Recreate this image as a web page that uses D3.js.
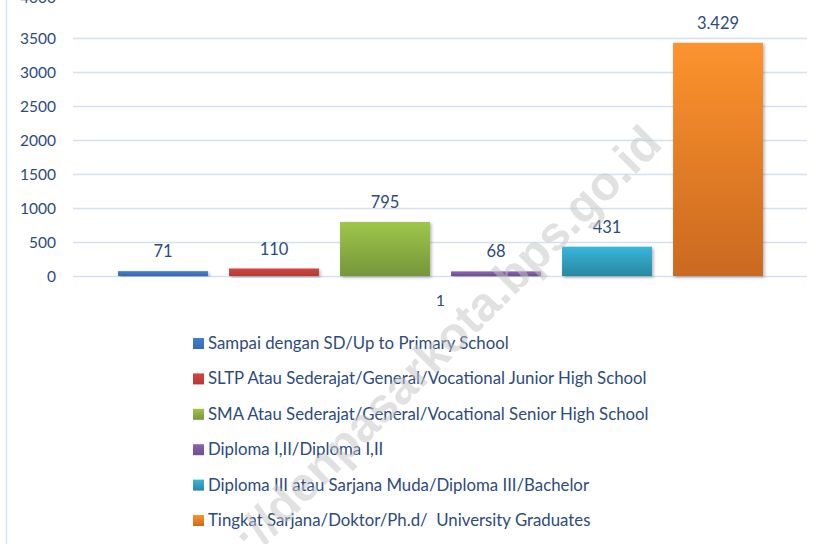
<!DOCTYPE html>
<html>
<head>
<meta charset="utf-8">
<script src="https://cdn.jsdelivr.net/npm/d3@7"></script>
<style>
  body { margin: 0; background: #fff; }
  svg { display: block; font-family: Lato, "Open Sans", sans-serif; }
</style>
</head>
<body>
<div id="chart"></div>
<script>
// categories (legend labels) and values
var categories = [
	"Sampai dengan SD/Up to Primary School",
	"SLTP Atau Sederajat/General/Vocational Junior High School",
	"SMA Atau Sederajat/General/Vocational Senior High School",
	"Diploma I,II/Diploma I,II",
	"Diploma III atau Sarjana Muda/Diploma III/Bachelor",
	"Tingkat Sarjana/Doktor/Ph.d/  University Graduates"
];
var values = [71, 110, 795, 68, 431, 3429];
var yTicks = [0, 500, 1000, 1500, 2000, 2500, 3000, 3500, 4000];
var groupLabel = "1";
// gradient top / bottom colours
var colorsTop = ["#3f7fd3", "#d4433d", "#9ec64a", "#8b63b2", "#38b6da", "#fd932e"];
var colorsBottom = ["#3869ad", "#b33a36", "#76963a", "#6c4e92", "#2888a1", "#ca6920"];

var width = 827, height = 544;
var textColor = "#2d4b7c";

var svg = d3.select("#chart").append("svg")
	.attr("width", width)
	.attr("height", height);

var defs = svg.append("defs");
categories.forEach(function (c, i) {
	var g = defs.append("linearGradient")
		.attr("id", "grad" + i)
		.attr("x1", 0).attr("y1", 0).attr("x2", 0).attr("y2", 1);
	g.append("stop").attr("offset", "0%").attr("stop-color", colorsTop[i]);
	g.append("stop").attr("offset", "100%").attr("stop-color", colorsBottom[i]);
});
defs.append("filter").attr("id", "shadow")
	.attr("x", "-10%").attr("y", "-10%").attr("width", "130%").attr("height", "130%")
	.append("feDropShadow")
	.attr("dx", 1.5).attr("dy", 1.5).attr("stdDeviation", 1.5)
	.attr("flood-color", "#000").attr("flood-opacity", 0.3);

// left frame line
svg.append("line")
	.attr("x1", 6.5).attr("x2", 6.5)
	.attr("y1", 0).attr("y2", height)
	.attr("stroke", "#d5e3f4").attr("stroke-width", 1.5);

var y = d3.scaleLinear().domain([0, 4000]).range([276, 4]);
var x = d3.scaleBand()
	.domain(categories)
	.range([107.5, 773.5])
	.paddingInner(0.19)
	.paddingOuter(0.095);

// the picture is cropped at the top: the top gridline falls off the edge
var topTick = yTicks[yTicks.length - 1];

// gridlines
svg.append("g").selectAll("line")
	.data(yTicks.filter(function (d) { return d !== topTick; }))
	.join("line")
	.attr("x1", 73).attr("x2", 807)
	.attr("y1", function (d) { return y(d) + 0.5; })
	.attr("y2", function (d) { return y(d) + 0.5; })
	.attr("stroke", "#d3e1f3").attr("stroke-width", 1.5);

// y tick labels
svg.append("g").selectAll("text")
	.data(yTicks)
	.join("text")
	.attr("x", 56)
	.attr("y", function (d) { return d === topTick ? 3 : y(d) + 5.5; })
	.attr("text-anchor", "end")
	.attr("font-size", 15.5)
	.attr("fill", textColor)
	.text(function (d) { return d; });

// bars
svg.append("g").selectAll("rect")
	.data(values)
	.join("rect")
	.attr("x", function (d, i) { return x(categories[i]); })
	.attr("y", function (d) { return y(d); })
	.attr("width", x.bandwidth())
	.attr("height", function (d) { return y(0) - y(d); })
	.attr("fill", function (d, i) { return "url(#grad" + i + ")"; })
	.attr("filter", "url(#shadow)");

// value labels
var fmt = d3.formatLocale({ decimal: ",", thousands: ".", grouping: [3], currency: ["", ""] }).format(",d");
svg.append("g").selectAll("text")
	.data(values)
	.join("text")
	.attr("x", function (d, i) { return x(categories[i]) + x.bandwidth() / 2; })
	.attr("y", function (d) { return y(d) - 14; })
	.attr("text-anchor", "middle")
	.attr("font-size", 16.5)
	.attr("fill", textColor)
	.text(function (d) { return fmt(d); });

// category label
svg.append("text")
	.attr("x", (x.range()[0] + x.range()[1]) / 2)
	.attr("y", 306)
	.attr("text-anchor", "middle")
	.attr("font-size", 16)
	.attr("fill", textColor)
	.text(groupLabel);

// legend
var legend = svg.append("g").selectAll("g")
	.data(categories)
	.join("g")
	.attr("transform", function (d, i) { return "translate(193," + (338 + i * 35.4) + ")"; });
legend.append("rect")
	.attr("width", 11).attr("height", 11)
	.attr("fill", function (d, i) { return "url(#grad" + i + ")"; });
legend.append("text")
	.attr("x", 15)
	.attr("y", 11)
	.attr("font-size", 16.8)
	.attr("fill", textColor)
	.style("white-space", "pre")
	.attr("xml:space", "preserve")
	.text(function (d) { return d; });

// watermark
svg.append("text")
	.attr("transform", "translate(664,146) rotate(-45)")
	.attr("text-anchor", "end")
	.attr("font-family", "'Liberation Sans', Arial, sans-serif")
	.attr("font-weight", "bold")
	.attr("font-size", 48)
	.attr("fill", "#c4c4c4")
	.attr("opacity", 0.5)
	.text("https://denpasarkota.bps.go.id");
</script>
</body>
</html>
